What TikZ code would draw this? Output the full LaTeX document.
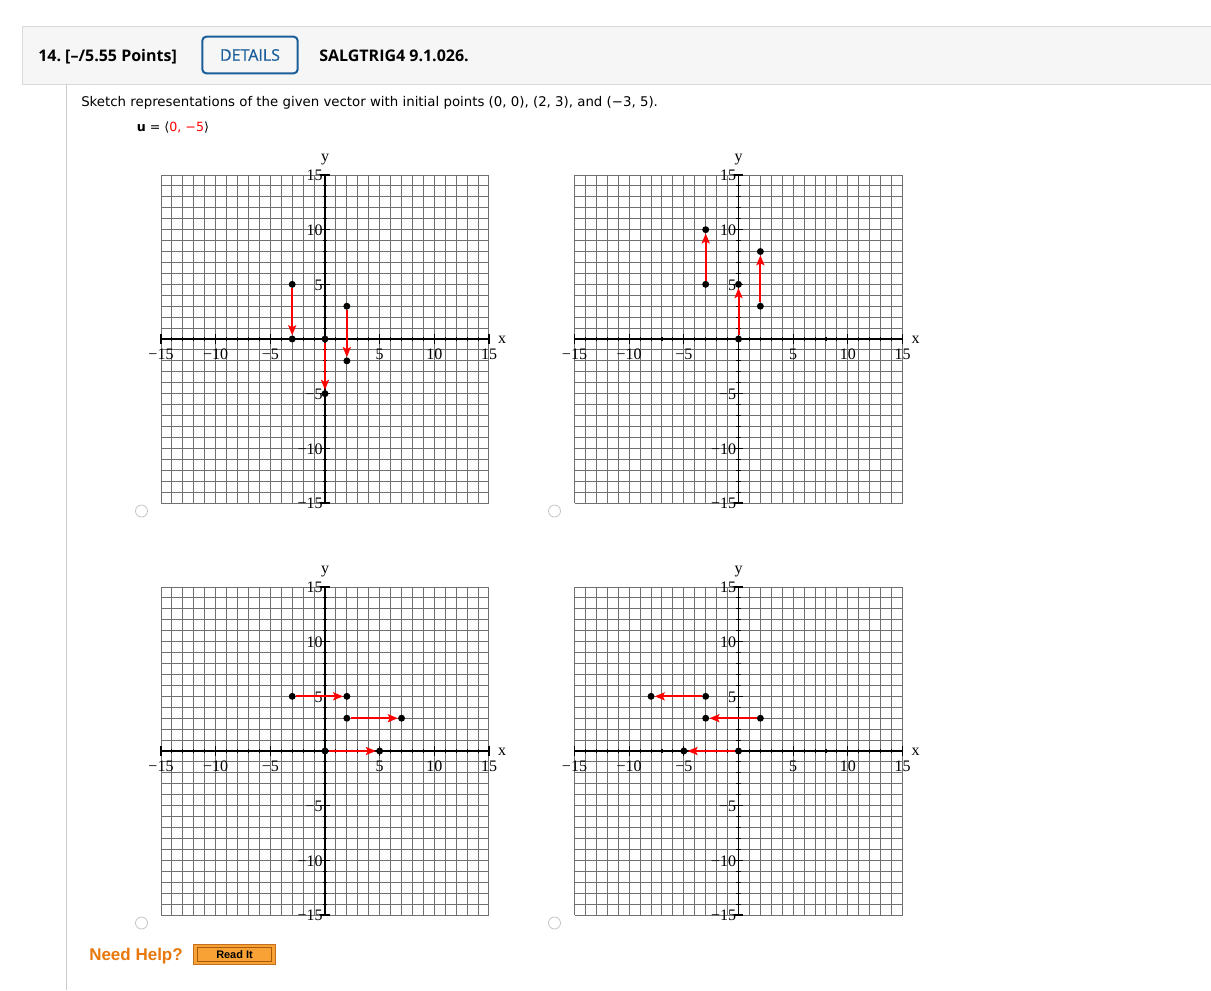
\documentclass[tikz,border=0pt]{standalone}
\usepackage{fontspec}
\setmainfont{Liberation Serif}
\newfontfamily\osans{Open Sans}
\newfontfamily\osanssb[FakeBold=0.7]{Open Sans}
\newfontfamily\dsans{DejaVu Sans}
\newfontfamily\asans{Liberation Sans}
\usetikzlibrary{arrows.meta}
\definecolor{gridgray}{HTML}{707070}
\definecolor{hdrfill}{HTML}{F6F6F6}
\definecolor{hdrline}{HTML}{DADADA}
\definecolor{sideline}{HTML}{CCCCCC}
\definecolor{detblue}{HTML}{1B5E9A}
\definecolor{helporange}{HTML}{E8780C}
\definecolor{btnfill}{HTML}{F8A236}
\definecolor{btnline}{HTML}{C0701E}
\definecolor{btninner}{HTML}{A85A08}
\definecolor{vred}{HTML}{FF0000}
\definecolor{radiogray}{HTML}{C4C4C4}

\newcommand{\axesgrid}[1]{%
  \draw[gridline] (-15,-15) grid[step=1] (15,15);
  \draw[axisline] (-15,0) -- (15,0);
  \draw[axisline] (0,-15) -- (0,15);
  \foreach \t in {-15,...,15}{%
    \draw[axisline] (\t,-0.2) -- (\t,0.2);
    \draw[axisline] (-0.2,\t) -- (0.2,\t);}
  \foreach \t/\l in {-15/−15,-10/−10,-5/−5,5/5,10/10,15/15}{%
    \draw[axisline] (\t,-0.42) -- (\t,0.42);
    \draw[axisline] (-0.42,\t) -- (0.42,\t);
    \node[ticklab] (#1xl\l) at (\t,-1.4) {\l};
    \node[ticklab,anchor=east] (#1yl\l) at (-0.2,\t-0.06) {\l};}
  \node[ticklab] (#1ylab) at (0,16.4) {y};
  \node[ticklab] (#1xlab) at (16.2,-0.1) {x};
}

\begin{document}
\begin{tikzpicture}[x=0.75pt,y=-0.75pt,
  gridline/.style={draw=gridgray,line width=0.75pt},
  axisline/.style={draw=black,line width=0.8pt},
  ticklab/.style={font=\fontsize{12}{12}\selectfont,inner sep=0pt},
  dot/.style={circle,fill=black,inner sep=0pt,minimum size=5.2pt},
  vec/.style={draw=vred,line width=1.5pt,-{Stealth[length=7.5pt,width=6pt,inset=1.5pt]}},
  radio/.style={circle,draw=radiogray,line width=0.6pt,inner sep=0pt,minimum size=9pt},
  graph/.style={x=8.2pt,y=8.2pt}]
\useasboundingbox (0,0) rectangle (1211,990);
\fill[white] (0,0) rectangle (1211,990);

% header
\draw[hdrline,fill=hdrfill,line width=0.75pt] (22,26) rectangle (1220,84);
\draw[sideline,line width=0.75pt] (66.5,84) -- (66.5,990);
\node[anchor=base west,inner sep=0pt,font=\osans\bfseries\fontsize{12}{12}\selectfont] (qnum) at (38,61.5) {14.\ [–/5.55 Points]};
\node[draw=detblue,line width=1.5pt,rounded corners=3pt,minimum width=71.5pt,minimum height=27.5pt,inner sep=0pt,text=detblue,font=\osanssb\fontsize{12}{12}\selectfont] (details) at (250,55) {DETAILS};
\node[anchor=base west,inner sep=0pt,font=\osans\bfseries\fontsize{12}{12}\selectfont] (code) at (319,61.5) {SALGTRIG4 9.1.026.};

\node[anchor=base west,inner sep=0pt,font=\dsans\fontsize{10}{11}\selectfont] (prompt) at (81,106) {Sketch representations of the given vector with initial points (0, 0), (2, 3), and (−3, 5).};
\node[anchor=base west,inner sep=0pt,font=\dsans\fontsize{9.5}{10}\selectfont] (uvec) at (136.5,131.5) {\textbf{u} = ⟨\textcolor{vred}{0, −5}⟩};

% graph 1
\begin{scope}[shift={(325,339)},graph]
\axesgrid{ga}
\node[dot] (ga1) at (0,0) {};
\node[dot] (ga2) at (0,-5) {};
\node[dot] (ga3) at (2,3) {};
\node[dot] (ga4) at (2,-2) {};
\node[dot] (ga5) at (-3,5) {};
\node[dot] (ga6) at (-3,0) {};
\draw[vec] (ga1) -- (ga2);
\draw[vec] (ga3) -- (ga4);
\draw[vec] (ga5) -- (ga6);
\end{scope}

% graph 2
\begin{scope}[shift={(738.5,339)},graph]
\axesgrid{gb}
\node[dot] (gb1) at (0,0) {};
\node[dot] (gb2) at (0,5) {};
\node[dot] (gb3) at (2,3) {};
\node[dot] (gb4) at (2,8) {};
\node[dot] (gb5) at (-3,5) {};
\node[dot] (gb6) at (-3,10) {};
\draw[vec] (gb1) -- (gb2);
\draw[vec] (gb3) -- (gb4);
\draw[vec] (gb5) -- (gb6);
\end{scope}

% graph 3
\begin{scope}[shift={(325,751)},graph]
\axesgrid{gc}
\node[dot] (gc1) at (0,0) {};
\node[dot] (gc2) at (5,0) {};
\node[dot] (gc3) at (2,3) {};
\node[dot] (gc4) at (7,3) {};
\node[dot] (gc5) at (-3,5) {};
\node[dot] (gc6) at (2,5) {};
\draw[vec] (gc1) -- (gc2);
\draw[vec] (gc3) -- (gc4);
\draw[vec] (gc5) -- (gc6);
\end{scope}

% graph 4
\begin{scope}[shift={(738.5,751)},graph]
\axesgrid{gd}
\node[dot] (gd1) at (0,0) {};
\node[dot] (gd2) at (-5,0) {};
\node[dot] (gd3) at (2,3) {};
\node[dot] (gd4) at (-3,3) {};
\node[dot] (gd5) at (-3,5) {};
\node[dot] (gd6) at (-8,5) {};
\draw[vec] (gd1) -- (gd2);
\draw[vec] (gd3) -- (gd4);
\draw[vec] (gd5) -- (gd6);
\end{scope}

% radio buttons
\node[radio] (ra) at (141.5,511) {};
\node[radio] (rb) at (554.5,511) {};
\node[radio] (rc) at (141.5,923) {};
\node[radio] (rd) at (554.5,923) {};

% help
\node[anchor=base west,inner sep=0pt,text=helporange,font=\asans\bfseries\fontsize{12.75}{13}\selectfont] (help) at (89,960) {Need Help?};
\node[draw=btnline,fill=btnfill,line width=0.75pt,minimum width=62pt,minimum height=15.5pt,inner sep=0pt] (readbox) at (234.5,954.5) {};
\node[draw=btninner,line width=0.6pt,minimum width=56pt,minimum height=11pt,inner sep=0pt,font=\asans\bfseries\fontsize{8.2}{9}\selectfont] (readit) at (readbox.center) {Read It};
\end{tikzpicture}
\end{document}
